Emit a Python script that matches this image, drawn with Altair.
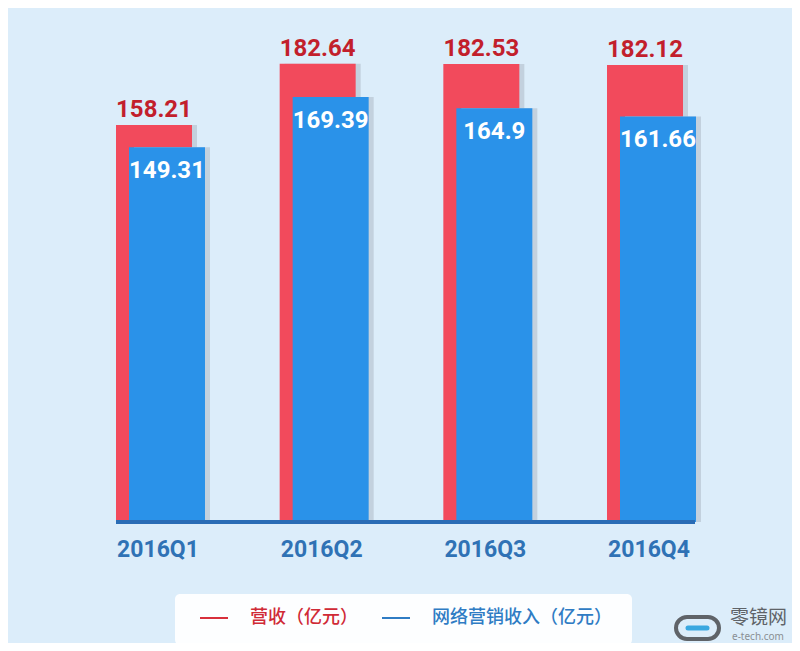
import altair as alt
import pandas as pd

quarters = ["2016Q1", "2016Q2", "2016Q3", "2016Q4"]
revenue = [158.21, 182.64, 182.53, 182.12]
marketing = [149.31, 169.39, 164.9, 161.66]
legend_labels = ["营收（亿元）", "网络营销收入（亿元）"]

RED = "#f24a5c"
RED_TXT = "#c21f2c"
BLUE = "#2a92e9"
BLUE_DARK = "#2a6cb5"
SHADOW = "#c3d1de"
BG = "#dcedfa"

df = pd.DataFrame({"quarter": quarters, "revenue": revenue, "marketing": marketing})

xs = alt.X("quarter:O", scale=alt.Scale(type="point", domain=quarters, range=[146, 637], padding=0), axis=None)
ysc = alt.Scale(domain=[-48.23, 204.86], nice=False, zero=False)

base = alt.Chart(df)

red_shadow = base.mark_bar(size=76, xOffset=5, color=SHADOW).encode(
    x=xs, y=alt.Y("revenue:Q", scale=ysc, axis=None), y2=alt.datum(0))
red_bar = base.mark_bar(size=76, color=RED).encode(
    x=xs, y=alt.Y("revenue:Q", scale=ysc, axis=None), y2=alt.datum(0))
blue_shadow = base.mark_bar(size=76, xOffset=18, color=SHADOW).encode(
    x=xs, y=alt.Y("marketing:Q", scale=ysc, axis=None), y2=alt.datum(0))
blue_bar = base.mark_bar(size=76, xOffset=13, color=BLUE).encode(
    x=xs, y=alt.Y("marketing:Q", scale=ysc, axis=None), y2=alt.datum(0))

baseline = alt.Chart(pd.DataFrame({"v": [0]})).mark_rule(color=BLUE_DARK, strokeWidth=4).encode(
    x=alt.value(108), x2=alt.value(687), y=alt.Y("v:Q", scale=ysc, axis=None))

red_lbl = base.mark_text(dy=-8, baseline="alphabetic", font="Roboto", fontWeight="bold",
                         fontSize=24, color=RED_TXT).encode(
    x=xs, y=alt.Y("revenue:Q", scale=ysc, axis=None), text=alt.Text("revenue:Q"))
blue_lbl = base.mark_text(dx=13, dy=31, baseline="alphabetic", font="Roboto", fontWeight="bold",
                          fontSize=24, color="white").encode(
    x=xs, y=alt.Y("marketing:Q", scale=ysc, axis=None), text=alt.Text("marketing:Q"))

x_lbl = base.mark_text(dx=4, baseline="alphabetic", font="Roboto", fontWeight="bold",
                       fontSize=23, color="#2f72b5").encode(
    x=xs, y=alt.value(549), text="quarter:N")

one = pd.DataFrame({"a": [0]})
legend_box = alt.Chart(one).mark_rect(fill="white", opacity=0.92, cornerRadius=5).encode(
    x=alt.value(167), x2=alt.value(624), y=alt.value(586), y2=alt.value(637))
leg_r_line = alt.Chart(one).mark_rule(color="#d8303c", strokeWidth=2).encode(
    x=alt.value(192), x2=alt.value(220), y=alt.value(610))
leg_b_line = alt.Chart(one).mark_rule(color="#2f7cc4", strokeWidth=2).encode(
    x=alt.value(374), x2=alt.value(402), y=alt.value(610))
leg_r_txt = alt.Chart(one).mark_text(text=legend_labels[0], align="left", baseline="middle",
                                     font="Noto Sans CJK SC", fontSize=18, fontWeight=500,
                                     color="#d02a36").encode(x=alt.value(242), y=alt.value(610))
leg_b_txt = alt.Chart(one).mark_text(text=legend_labels[1], align="left", baseline="middle",
                                     font="Noto Sans CJK SC", fontSize=18, fontWeight=500,
                                     color="#2f7cc4").encode(x=alt.value(424), y=alt.value(610))

logo_ring = alt.Chart(one).mark_rect(fill=None, stroke="#5f6368", strokeWidth=4, cornerRadius=11).encode(
    x=alt.value(668), x2=alt.value(711), y=alt.value(609), y2=alt.value(631))
logo_bar = alt.Chart(one).mark_rule(color="#3aa8e0", strokeWidth=5, strokeCap="round").encode(
    x=alt.value(680), x2=alt.value(699), y=alt.value(620))
wm1 = alt.Chart(one).mark_text(text="零镜网", align="left", baseline="middle",
                               font="Noto Sans CJK SC", fontSize=19, color="#5f6368").encode(
    x=alt.value(722), y=alt.value(610))
wm2 = alt.Chart(one).mark_text(text="e-tech.com", align="left", baseline="middle",
                               font="Noto Sans", fontSize=10, color="#8a8f94").encode(
    x=alt.value(724), y=alt.value(629))

chart = alt.layer(
    red_shadow, red_bar, blue_shadow, blue_bar, baseline, red_lbl, blue_lbl, x_lbl,
    legend_box, leg_r_line, leg_b_line, leg_r_txt, leg_b_txt, logo_ring, logo_bar, wm1, wm2
).properties(
    width=784, height=635, background=BG, padding=0,
    autosize=alt.AutoSizeParams(type="none")
).configure_view(stroke=None)

chart.save("out.html", embed_options={"renderer": "svg", "actions": False})
